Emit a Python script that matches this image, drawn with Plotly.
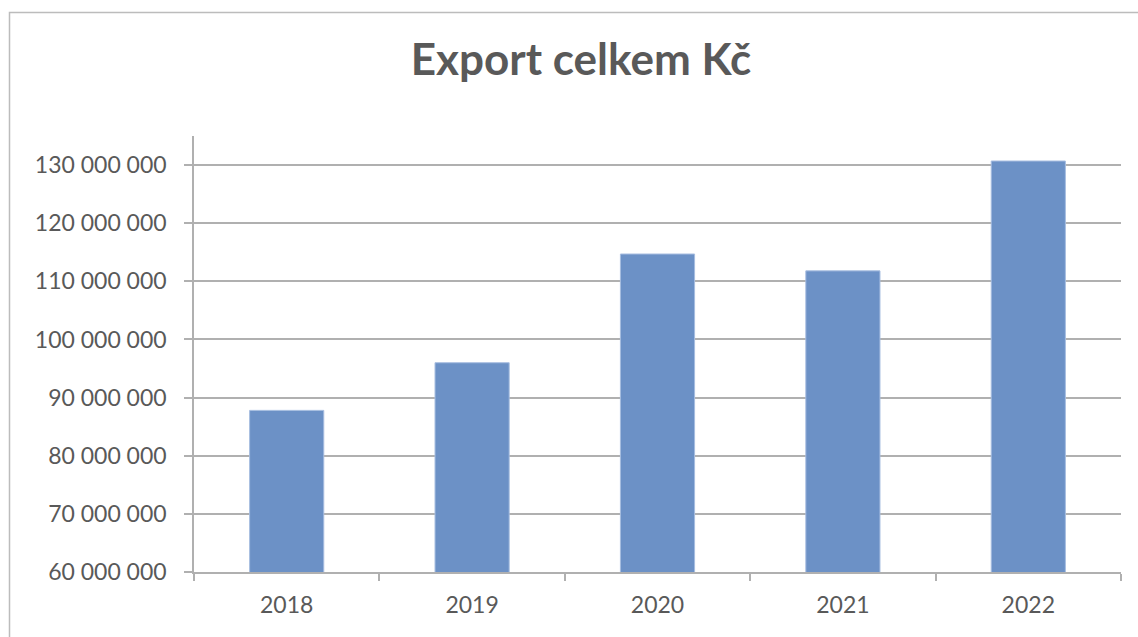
import plotly.graph_objects as go

years = ["2018", "2019", "2020", "2021", "2022"]
export_czk = [87_800_000, 96_000_000, 114_700_000, 111_800_000, 130_700_000]
y_ticks = [60_000_000, 70_000_000, 80_000_000, 90_000_000, 100_000_000,
           110_000_000, 120_000_000, 130_000_000]
title_text = "Export celkem Kč"

W, H = 1138, 637
L, R, T, B = 194, 1121, 136, 572

def px_x(p):
    return (p - L) / (R - L)

def px_y(p):
    return (B - p) / (B - T)

fig = go.Figure()
fig.add_trace(go.Bar(
    x=years, y=export_czk,
    marker=dict(color="#6c91c6", line=dict(color="#a7bde0", width=1)),
    hoverinfo="x+y",
))

text_color = "#595959"
font_family = "Lato, 'Open Sans', sans-serif"
frame_color = "#bcbcbc"

fig.update_layout(
    width=W, height=H,
    margin=dict(l=L, r=W - R, t=T, b=H - B, pad=0),
    paper_bgcolor="white", plot_bgcolor="white",
    separators=", ",
    bargap=0.6,
    showlegend=False,
    title=dict(text="<b>" + title_text + "</b>", x=581 / W, xanchor="center",
               xref="container", yref="container", y=1 - 60 / H, yanchor="middle",
               font=dict(family=font_family, size=44, color=text_color)),
    font=dict(family=font_family, size=23, color=text_color),
    xaxis=dict(
        type="category",
        showline=True, linecolor="#b0b0b0", linewidth=1.5,
        ticks="outside", ticklen=7, tickcolor="#b0b0b0", tickwidth=1.5,
        tickson="boundaries",
        showgrid=False,
        ticklabelstandoff=12,
        tickfont=dict(size=23, color=text_color),
    ),
    yaxis=dict(
        range=[60_000_000, 135_000_000],
        tickvals=y_ticks,
        tickformat=",d",
        showline=True, linecolor="#b0b0b0", linewidth=1.5,
        ticks="outside", ticklen=8, tickcolor="#b0b0b0", tickwidth=1.5,
        showgrid=True, gridcolor="#b0b0b0", gridwidth=1.5,
        zeroline=False,
        ticklabelstandoff=13,
        tickfont=dict(size=23, color=text_color),
    ),
    shapes=[
        dict(type="path", xref="paper", yref="paper",
             path="M {x0},{y1} L {x0},{y0} L {x1},{y0}".format(
                 x0=px_x(9.5), y0=px_y(12.5), x1=px_x(1138), y1=px_y(637)),
             line=dict(color=frame_color, width=1.5), layer="below"),
    ],
)

fig.write_html(
    "out.html",
    config={"displayModeBar": False},
    post_script="document.body.style.margin='0';document.body.style.overflow='hidden';",
)
